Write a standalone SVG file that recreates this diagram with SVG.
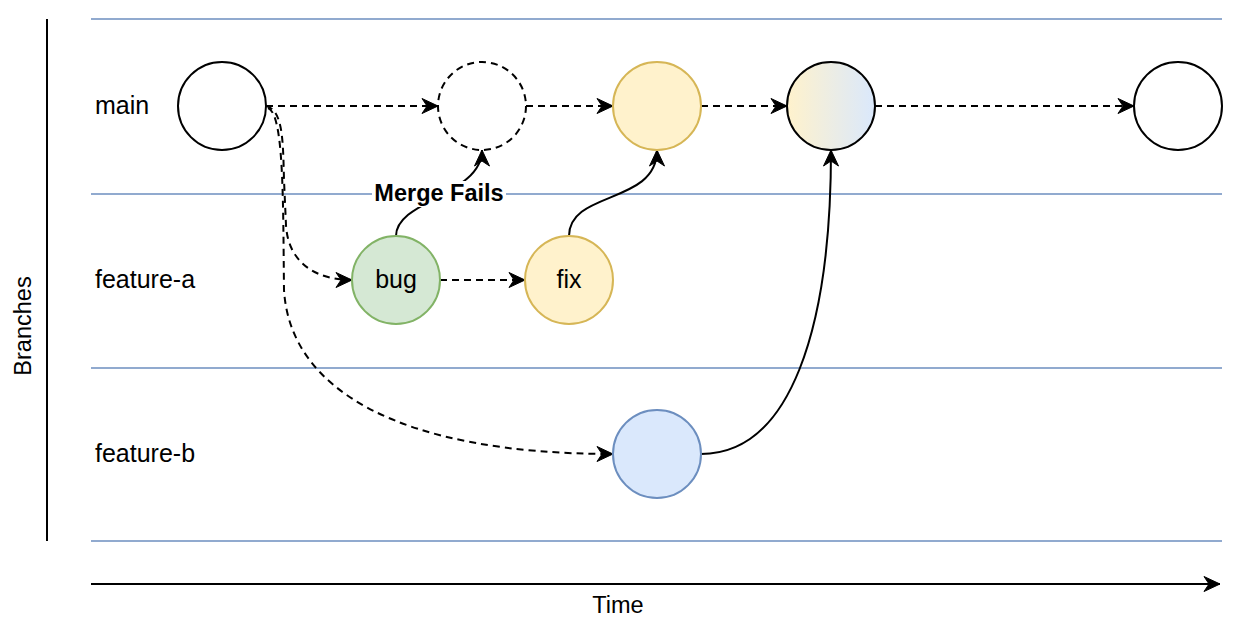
<svg xmlns="http://www.w3.org/2000/svg" width="1234" height="628" viewBox="0 0 1234 628">
<style>
.lane{stroke:#6c8ebf;stroke-width:1.5;fill:none}
.lbl{font-family:"Liberation Sans",Arial,sans-serif;font-size:25px;fill:#000}
.ax{font-family:"Liberation Sans",Arial,sans-serif;font-size:23.5px;fill:#000}
.e{fill:none;stroke:#000;stroke-width:2}
.d{stroke-dasharray:7 5}
.n{stroke-width:2}
</style>
<defs>
<marker id="ah" markerUnits="userSpaceOnUse" viewBox="-17 -8 18 16" markerWidth="18" markerHeight="16" refX="0" refY="0" orient="auto">
<path d="M0,0 L-16,-7.5 L-11,0 L-16,7.5 Z" fill="#000" stroke="#000" stroke-width="1"/>
</marker>
<linearGradient id="gr" x1="0" y1="0" x2="1" y2="0">
<stop offset="0" stop-color="#fff2cc"/>
<stop offset="1" stop-color="#dae8fc"/>
</linearGradient>
</defs>
<rect width="1234" height="628" fill="#fff"/>
<g id="lanes">
<line class="lane" x1="91" y1="19" x2="1222" y2="19"/>
<line class="lane" x1="91" y1="194" x2="1222" y2="194"/>
<line class="lane" x1="91" y1="368" x2="1222" y2="368"/>
<line class="lane" x1="91" y1="541" x2="1222" y2="541"/>
</g>
<g id="axes">
<line x1="47" y1="19" x2="47" y2="541" stroke="#000" stroke-width="2"/>
<text class="ax" transform="translate(31,326) rotate(-90)" text-anchor="middle">Branches</text>
<line x1="91" y1="584" x2="1220" y2="584" stroke="#000" stroke-width="2" marker-end="url(#ah)"/>
<text class="ax" x="618" y="613" text-anchor="middle">Time</text>
</g>
<g id="labels">
<text class="lbl" x="95" y="114">main</text>
<text class="lbl" x="95" y="288">feature-a</text>
<text class="lbl" x="95" y="462">feature-b</text>
</g>
<g id="connectors">
<path class="e d" d="M266,106 L438,106" marker-end="url(#ah)"/>
<path class="e d" d="M526,106 L613,106" marker-end="url(#ah)"/>
<path class="e d" d="M701,106 L787,106" marker-end="url(#ah)"/>
<path class="e d" d="M875,106 L1134,106" marker-end="url(#ah)"/>
<path class="e d" d="M266,106 C283,110 283,140 284,180 L286,225 C288,262 315,280 352,280" marker-end="url(#ah)"/>
<path class="e d" d="M268,108 C284,114 283,200 284,290 C290,390 400,454 613,454" marker-end="url(#ah)"/>
<path class="e d" d="M440,280 L525,280" marker-end="url(#ah)"/>
<path class="e" d="M396,236 C396,200 482,195 482,150" marker-end="url(#ah)"/>
<path class="e" d="M569,236 C569,190 657,205 657,150" marker-end="url(#ah)"/>
<path class="e" d="M701,454 C790,454 831,330 831,150" marker-end="url(#ah)"/>
<rect x="372" y="181" width="134" height="26" fill="#fff"/>
<text x="439" y="201" text-anchor="middle" font-family="'Liberation Sans',Arial,sans-serif" font-size="23.5" font-weight="bold">Merge Fails</text>
</g>
<g id="n-main1"><circle class="n" cx="222" cy="106" r="44" fill="#fff" stroke="#000"/></g>
<g id="n-fail"><circle class="n" cx="482" cy="106" r="44" fill="#fff" stroke="#000" stroke-dasharray="7 5"/></g>
<g id="n-main3"><circle class="n" cx="657" cy="106" r="44" fill="#fff2cc" stroke="#d6b656"/></g>
<g id="n-main4"><circle class="n" cx="831" cy="106" r="44" fill="url(#gr)" stroke="#000"/></g>
<g id="n-main5"><circle class="n" cx="1178" cy="106" r="44" fill="#fff" stroke="#000"/></g>
<g id="n-bug"><circle class="n" cx="396" cy="280" r="44" fill="#d5e8d4" stroke="#82b366"/><text class="lbl" x="396" y="288" text-anchor="middle">bug</text></g>
<g id="n-fix"><circle class="n" cx="569" cy="280" r="44" fill="#fff2cc" stroke="#d6b656"/><text class="lbl" x="569" y="288" text-anchor="middle">fix</text></g>
<g id="n-fb"><circle class="n" cx="657" cy="454" r="44" fill="#dae8fc" stroke="#6c8ebf"/></g>
</svg>
